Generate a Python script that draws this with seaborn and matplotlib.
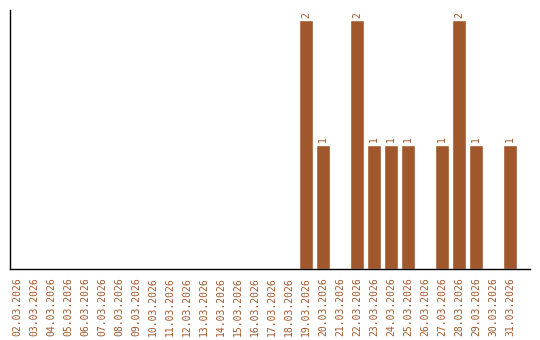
import matplotlib
matplotlib.use("Agg")
import matplotlib.pyplot as plt
import seaborn as sns
import pandas as pd

dates = [f"{d:02d}.03.2026" for d in range(2, 32)]
counts = [0, 0, 0, 0, 0, 0, 0, 0, 0, 0, 0, 0, 0, 0, 0, 0, 0,
          2, 1, 0, 2, 1, 1, 1, 0, 1, 2, 1, 0, 1]

color = "#A0572B"
df = pd.DataFrame({"date": dates, "count": counts})

sns.set_style("white")
plt.rcParams['font.family'] = ['DejaVu Sans Mono', 'DejaVu Sans']

fig = plt.figure(figsize=(5.4, 3.4), dpi=100)
ax = fig.add_axes([10 / 540, 71 / 340, 520 / 540, 259 / 340])
sns.barplot(data=df, x="date", y="count", color=color, saturation=1,
            width=14 / 17, ax=ax)

ax.set_xlim(-0.41, 30.18)
ax.set_ylim(0, 259 / 124.5)
ax.set_xlabel("")
ax.set_ylabel("")
ax.set_yticks([])
ax.tick_params(axis="x", length=0, pad=6, labelsize=7, labelcolor=color,
               labelrotation=90)
for s in ["top", "right"]:
    ax.spines[s].set_visible(False)
for s in ["left", "bottom"]:
    ax.spines[s].set_color("black")
    ax.spines[s].set_linewidth(1.0)

for i, v in enumerate(counts):
    if v > 0:
        ax.text(i, v + 0.02, str(v), rotation=90, ha="center", va="bottom",
                fontsize=7, color=color)

fig.savefig("out.png", dpi=100)
